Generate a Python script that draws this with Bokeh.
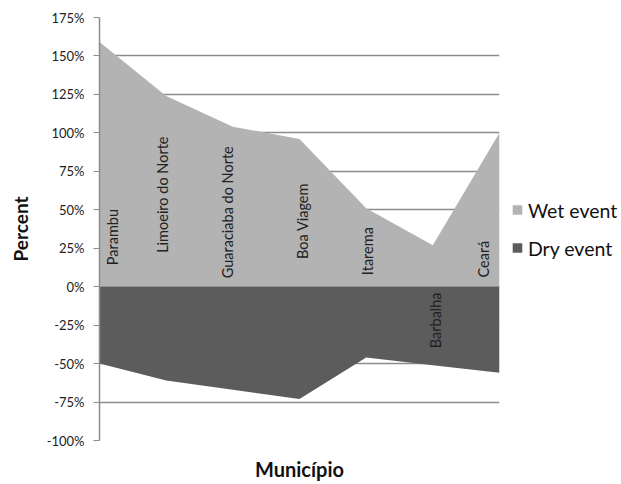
import numpy as np
from bokeh.plotting import figure
from bokeh.models import FixedTicker, PrintfTickFormatter, Legend, LegendItem, Range1d
from bokeh.core.properties import value
from bokeh.embed import file_html
from bokeh.resources import INLINE

# ---- data ----
municipios = ["Parambu", "Limoeiro do Norte", "Guaraciaba do Norte", "Boa Viagem",
              "Itarema", "Barbalha", "Ceará"]
wet_pct = [159, 124, 104, 96, 51, 27, 100]
dry_pct = [-50, -61, -67, -73, -46, -51, -56]
y_ticks = [-100, -75, -50, -25, 0, 25, 50, 75, 100, 125, 150, 175]

# ---- label layout (positions of the in-plot category labels) ----
label_x = [0.2, 0.95, 1.92, 3.04, 4.02, 5.04, 5.76]
label_y = [14, 22, 5.5, 18, 7.5, -40, 6]

FONT = "Lato"
x = list(range(len(municipios)))

p = figure(frame_width=400, frame_height=423, output_backend="svg", toolbar_location=None,
           x_range=Range1d(0, len(municipios) - 1), y_range=Range1d(-100, 175),
           min_border_left=99, min_border_right=2, min_border_top=17, min_border_bottom=44)
p.outline_line_color = None
p.background_fill_color = "white"
p.border_fill_color = "white"

wet_r = p.varea(x=x, y1=0, y2=wet_pct, fill_color="#b3b3b3")
dry_r = p.varea(x=x, y1=0, y2=dry_pct, fill_color="#5c5c5c")

p.text(x=label_x, y=label_y, text=municipios, angle=np.pi / 2,
       text_align="left", text_baseline="middle",
       text_font=value(FONT), text_font_size="14.5px", text_color="#222222")

# grid
p.xgrid.grid_line_color = None
p.ygrid.ticker = FixedTicker(ticks=y_ticks)
p.ygrid.grid_line_color = "#8c8c8c"
p.ygrid.grid_line_width = 1.5

# y axis
p.yaxis.ticker = FixedTicker(ticks=y_ticks)
p.yaxis.formatter = PrintfTickFormatter(format="%d%%")
p.yaxis.axis_line_color = "#8c8c8c"
p.yaxis.axis_line_width = 1.5
p.yaxis.major_tick_line_color = "#8c8c8c"
p.yaxis.major_tick_out = 6
p.yaxis.major_tick_in = 0
p.yaxis.minor_tick_line_color = None
p.yaxis.major_label_standoff = 9
p.yaxis.major_label_text_font = FONT
p.yaxis.major_label_text_font_size = "13px"
p.yaxis.major_label_text_color = "#222222"
p.yaxis.axis_label = "Percent"
p.yaxis.axis_label_text_font = FONT
p.yaxis.axis_label_text_font_style = "bold"
p.yaxis.axis_label_text_font_size = "19px"
p.yaxis.axis_label_text_color = "#111111"
p.yaxis.axis_label_standoff = 12

# x axis: title only
p.xaxis.ticker = FixedTicker(ticks=[])
p.xaxis.axis_line_color = None
p.xaxis.major_tick_line_color = None
p.xaxis.minor_tick_line_color = None
p.xaxis.axis_label = "Município"
p.xaxis.axis_label_text_font = FONT
p.xaxis.axis_label_text_font_style = "bold"
p.xaxis.axis_label_text_font_size = "20px"
p.xaxis.axis_label_text_color = "#111111"
p.xaxis.axis_label_standoff = 16

legend = Legend(items=[LegendItem(label="Wet event", renderers=[wet_r]),
                       LegendItem(label="Dry event", renderers=[dry_r])],
                location="left", orientation="vertical",
                glyph_width=12, glyph_height=12, label_height=20,
                spacing=15, padding=0, margin=12, label_standoff=5,
                label_text_font=FONT, label_text_font_size="19.5px",
                label_text_color="#111111",
                border_line_color=None, background_fill_alpha=0)
p.add_layout(legend, "right")

open("out.html", "w").write(file_html(p, INLINE))
